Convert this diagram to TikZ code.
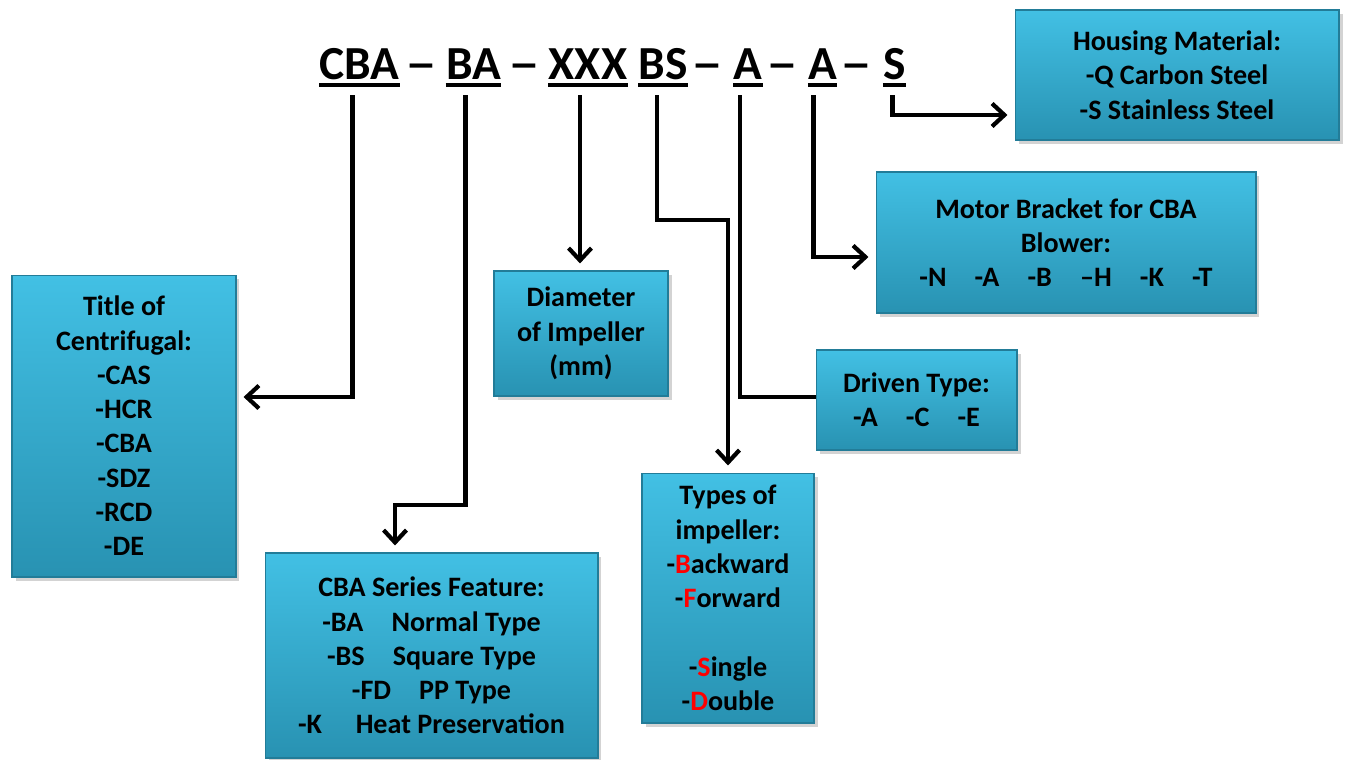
\documentclass[tikz,border=0pt]{standalone}
\usepackage{fontspec}
\setmainfont{Carlito}
\usepackage{tikz}
\usetikzlibrary{arrows.meta, positioning, calc, shadows}
\definecolor{boxtop}{RGB}{66,192,228}
\definecolor{boxbot}{RGB}{40,146,178}
\definecolor{boxedge}{RGB}{34,124,152}
\definecolor{keyred}{RGB}{255,0,0}
\newcommand{\keyltr}[1]{\textcolor{keyred}{#1}}

\begin{document}
\begin{tikzpicture}[x=0.02cm, y=-0.02cm,
    infobox/.style={draw=boxedge, line width=0.6pt, top color=boxtop, bottom color=boxbot,
        align=center, inner sep=0pt, font=\bfseries\fontsize{16}{19.5}\selectfont,
        drop shadow={opacity=0.35, shadow xshift=2pt, shadow yshift=-2.5pt}},
    codetxt/.style={font=\bfseries\fontsize{27}{30}\selectfont, inner sep=0pt, text depth=0pt, anchor=base},
    uline/.style={line width=2.3pt},
    link/.style={line width=2.4pt, -{Straight Barb[length=7pt, width=13pt]}, shorten >=4pt},
    plain/.style={line width=2.4pt}
]
    \useasboundingbox (0,0) rectangle (1345,760);

    % Model code
    \node[codetxt] (cCBA) at (359.5,80) {CBA};
    \node[codetxt] (cBA) at (473.5,80) {BA};
    \node[codetxt] (cXXX) at (588,80) {XXX};
    \node[codetxt] (cBS) at (663,80) {BS};
    \node[codetxt] (cA) at (748,80) {A};
    \node[codetxt] (cAA) at (822.5,80) {A};
    \node[codetxt] (cS) at (894.5,80) {S};
    \foreach \x [count=\i] in {421,524,707,782,856}
        \node[codetxt] (d\i) at (\x,80) {\scalebox{1.35}[1]{\textendash}};
    \foreach \c in {cCBA,cBA,cXXX,cBS,cA,cAA,cS}
        \draw[uline] ([yshift=-0.1cm]\c.south west) -- ([yshift=-0.1cm]\c.south east);

    % Boxes
    \node[infobox, minimum width=4.48cm, minimum height=6.04cm] (title) at (124,426)
        {Title of\\Centrifugal:\\-CAS\\-HCR\\-CBA\\-SDZ\\-RCD\\-DE};
    \node[infobox, minimum width=6.66cm, minimum height=4.1cm] (series) at (431.5,655.5)
        {CBA Series Feature:\\-BA\hspace{1em}Normal Type\\-BS\hspace{1em}Square Type\\
         -FD\hspace{1em}PP Type\\-K\hspace{1.2em}Heat Preservation};
    \node[infobox, minimum width=3.48cm, minimum height=2.5cm] (diam) at (581,333.5)
        {Diameter\\of Impeller\\(mm)};
    \node[infobox, minimum width=3.44cm, minimum height=5cm] (types) at (728,598)
        {Types of\\impeller:\\-\keyltr{B}ackward\\-\keyltr{F}orward\\[19.5pt]-\keyltr{S}ingle\\-\keyltr{D}ouble};
    \node[infobox, minimum width=4.02cm, minimum height=2cm] (driven) at (916.5,400)
        {Driven Type:\\-A\hspace{1em}-C\hspace{1em}-E};
    \node[infobox, minimum width=7.6cm, minimum height=2.82cm] (motor) at (1066,242.5)
        {Motor Bracket for CBA\\Blower:\\-N\hspace{1em}-A\hspace{1em}-B\hspace{1em}\textendash H\hspace{1em}-K\hspace{1em}-T};
    \node[infobox, minimum width=6.48cm, minimum height=2.6cm] (housing) at (1177,75)
        {Housing Material:\\-Q Carbon Steel\\-S Stainless Steel};

    % Connectors
    \foreach \c/\dx in {cCBA/-7, cBA/-8, cXXX/-8, cBS/-6, cA/-8, cAA/-9, cS/-2}
        \coordinate (\c-s) at ($(\c.south)+(\dx,15)$);
    \draw[link] (cCBA-s) |- ([yshift=0.58cm]title.east);
    \draw[link] (cBA-s) -- ++(0,410) -| ([xshift=-0.73cm]series.north);
    \draw[link] (cXXX-s) -- (cXXX-s |- diam.north);
    \draw[link] (cBS-s) -- ++(0,125) -| (types.north);
    \draw[plain] (cA-s) |- ([yshift=0.06cm]driven.west);
    \draw[link] (cAA-s) |- ([yshift=-0.29cm]motor.west);
    \draw[link] (cS-s) |- ([yshift=-0.8cm]housing.west);
\end{tikzpicture}
\end{document}
